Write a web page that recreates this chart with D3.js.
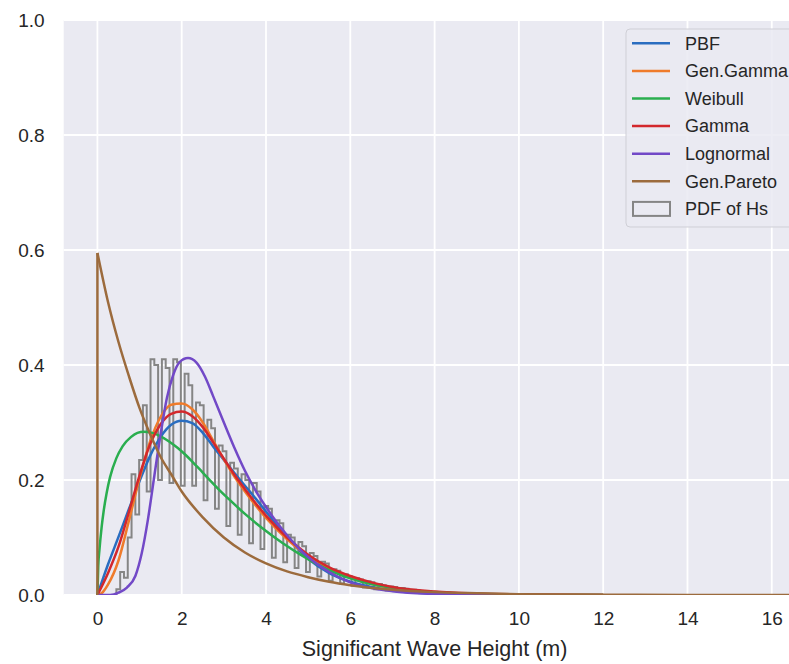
<!DOCTYPE html>
<html lang="en">
<head>
<meta charset="UTF-8">
<script src="https://d3js.org/d3.v7.min.js"></script>
<style>
  body { margin: 0; background: #fff; }
  text { font-family: "Liberation Sans", Arial, sans-serif; fill: #262626; }
</style>
</head>
<body>
<div id="chart"></div>
<script>
// --- data ---
const xTicks = [0, 2, 4, 6, 8, 10, 12, 14, 16];
const yTicks = [0, 0.2, 0.4, 0.6, 0.8, 1.0];

// histogram of Hs (step outline), bins of 0.09 m starting at 0.45 m
const histStart = 0.45;
const binWidth = 0.09;
const histHeights = [
  0.01, 0.04, 0.03, 0.10, 0.21, 0.14, 0.235, 0.33, 0.18, 0.41,
  0.40, 0.20, 0.41, 0.395, 0.195, 0.41, 0.405, 0.19, 0.385, 0.365,
  0.19, 0.335, 0.33, 0.165, 0.305, 0.29, 0.15, 0.26, 0.25, 0.12,
  0.23, 0.22, 0.105, 0.21, 0.20, 0.09, 0.195, 0.18, 0.08, 0.155,
  0.15, 0.065, 0.13, 0.125, 0.057, 0.105, 0.10, 0.047, 0.092, 0.085,
  0.04, 0.073, 0.068, 0.032, 0.058, 0.055, 0.025, 0.045, 0.042, 0.02,
  0.036, 0.033, 0.016, 0.029, 0.027, 0.013, 0.024, 0.022, 0.01, 0.019,
  0.017, 0.008, 0.015, 0.014, 0.006, 0.012, 0.011, 0.005, 0.009, 0.008,
  0.004, 0.007, 0.006, 0.003, 0.005, 0.005, 0.002, 0.004, 0.003, 0.0015,
  0.003, 0.002, 0.001, 0.002, 0.0015, 0.0005, 0.001, 0.001, 0, 0.0005
];

const pbfPdf = [[0,0],[0.25,0.053],[0.5,0.101],[0.75,0.15],[1,0.198],[1.25,0.242],[1.5,0.275],
  [1.75,0.296],[2,0.303],[2.25,0.299],[2.5,0.282],[2.75,0.258],[3,0.235],[3.25,0.212],[3.5,0.19],
  [3.75,0.168],[4,0.145],[4.5,0.1],[5,0.063],[5.5,0.038],[6,0.023],[6.5,0.014],[7,0.008],
  [8,0.0025],[9,0.0008],[10,0.0002],[12,0]];
const genGammaPdf = [[0,0],[0.1,0.003],[0.25,0.018],[0.5,0.06],[0.75,0.13],[1,0.203],[1.25,0.267],
  [1.5,0.31],[1.75,0.331],[2,0.333],[2.25,0.323],[2.5,0.3],[2.75,0.268],[3,0.236],[3.25,0.206],
  [3.5,0.18],[3.75,0.156],[4,0.134],[4.5,0.097],[5,0.068],[5.5,0.046],[6,0.03],[6.5,0.019],
  [7,0.012],[8,0.004],[9,0.0013],[10,0.0004],[12,0]];
const weibullPdf = [[0,0],[0.02,0.05],[0.05,0.08],[0.1,0.118],[0.15,0.147],[0.22,0.178],[0.3,0.205],
  [0.45,0.238],[0.6,0.259],[0.8,0.275],[0.95,0.282],[1.1,0.284],[1.3,0.282],[1.5,0.276],
  [1.7,0.267],[1.9,0.256],[2.1,0.243],[2.3,0.228],[2.5,0.213],[2.7,0.197],[2.9,0.182],
  [3.1,0.168],[3.5,0.141],[3.9,0.117],[4.4,0.09],[4.8,0.071],[5.2,0.054],[5.6,0.04],[6,0.029],
  [6.5,0.019],[7,0.0125],[7.5,0.008],[8,0.0052],[9,0.002],[10,0.0008],[11,0.0002],[12,0]];
const gammaPdf = [[0,0],[0.25,0.038],[0.5,0.084],[0.75,0.145],[1,0.208],[1.25,0.262],[1.5,0.297],
  [1.75,0.315],[2,0.319],[2.25,0.311],[2.5,0.292],[2.75,0.265],[3,0.237],[3.25,0.209],[3.5,0.184],
  [3.75,0.16],[4,0.138],[4.5,0.1],[5,0.07],[5.5,0.048],[6,0.033],[6.5,0.022],[7,0.014],
  [8,0.006],[9,0.0025],[10,0.001],[11,0.0004],[12,0]];
const lognormalPdf = [[0,0],[0.3,0],[0.5,0.004],[0.7,0.013],[0.9,0.033],[1.05,0.072],[1.2,0.132],
  [1.35,0.207],[1.5,0.28],[1.65,0.343],[1.8,0.383],[1.95,0.405],[2.15,0.412],[2.35,0.404],
  [2.55,0.38],[2.75,0.345],[3,0.3],[3.25,0.256],[3.5,0.216],[3.75,0.182],[4,0.153],[4.25,0.127],
  [4.5,0.104],[5,0.066],[5.5,0.04],[6,0.022],[6.5,0.012],[7,0.0065],[8,0.0017],[9,0.0004],[10,0]];
// first point is the jump at Hs = 0 (drawn as a straight vertical)
const genParetoPdf = [[0,0],[0,0.595],[0.25,0.51],[0.5,0.44],[0.75,0.38],[1,0.325],[1.25,0.28],
  [1.5,0.24],[1.75,0.21],[2,0.18],[2.5,0.135],[3,0.1],[3.5,0.074],[4,0.055],[4.5,0.041],
  [5,0.031],[5.5,0.023],[6,0.017],[7,0.009],[8,0.005],[9,0.003],[10,0.0015],[11,0.001],
  [12,0.0005],[14,0.0001],[16.8,0]];

const series = [
  { name: "PBF", data: pbfPdf, color: "#2a6dc0" },
  { name: "Gen.Gamma", data: genGammaPdf, color: "#ef7b2b" },
  { name: "Weibull", data: weibullPdf, color: "#2aae4f" },
  { name: "Gamma", data: gammaPdf, color: "#d3282d" },
  { name: "Lognormal", data: lognormalPdf, color: "#7249c7" },
  { name: "Gen.Pareto", data: genParetoPdf, color: "#9c6b3d" }
];

// --- layout ---
const width = 789, height = 664;
const svg = d3.select("#chart").append("svg")
  .attr("width", width)
  .attr("height", height);

const x = d3.scaleLinear().domain([-0.8, 16.8]).range([63.7, 805.5]);
const y = d3.scaleLinear().domain([0, 1]).range([595, 20]);

// plot background
svg.append("rect")
  .attr("x", x.range()[0]).attr("y", y(1))
  .attr("width", x.range()[1] - x.range()[0])
  .attr("height", y(0) - y(1))
  .attr("fill", "#eaeaf2");

svg.append("clipPath").attr("id", "clip")
  .append("rect")
  .attr("x", x.range()[0]).attr("y", y(1))
  .attr("width", x.range()[1] - x.range()[0])
  .attr("height", y(0) - y(1));

// grid
const grid = svg.append("g").attr("stroke", "#fff").attr("stroke-width", 1.8);
grid.selectAll(".gx").data(xTicks).join("line")
  .attr("x1", d => x(d)).attr("x2", d => x(d))
  .attr("y1", y(0)).attr("y2", y(1));
grid.selectAll(".gy").data(yTicks).join("line")
  .attr("x1", x.range()[0]).attr("x2", x.range()[1])
  .attr("y1", d => y(d)).attr("y2", d => y(d));

// axes (labels only, like seaborn darkgrid)
const xAxis = svg.append("g")
  .attr("transform", `translate(0,${y(0)})`)
  .call(d3.axisBottom(x).tickValues(xTicks).tickSize(0).tickPadding(17).tickFormat(d3.format("d")));
xAxis.select(".domain").remove();
xAxis.selectAll("text").style("font-size", "19px").attr("fill", "#262626");

const yAxis = svg.append("g")
  .attr("transform", `translate(${x.range()[0]},0)`)
  .call(d3.axisLeft(y).tickValues(yTicks).tickSize(0).tickPadding(19).tickFormat(d3.format(".1f")));
yAxis.select(".domain").remove();
yAxis.selectAll("text").style("font-size", "19px").attr("fill", "#262626");

svg.append("text")
  .attr("x", (x.range()[0] + x.range()[1]) / 2)
  .attr("y", 656)
  .attr("text-anchor", "middle")
  .style("font-size", "21.5px")
  .text("Significant Wave Height (m)");

const plot = svg.append("g").attr("clip-path", "url(#clip)");

// histogram step outline
const histPts = [[histStart, 0]];
histHeights.forEach((h, i) => {
  histPts.push([histStart + i * binWidth, h]);
  histPts.push([histStart + (i + 1) * binWidth, h]);
});
histPts.push([histStart + histHeights.length * binWidth, 0]);

plot.append("path")
  .datum(histPts)
  .attr("fill", "none")
  .attr("stroke", "#858585")
  .attr("stroke-width", 2)
  .attr("stroke-linejoin", "miter")
  .attr("d", d3.line().x(d => x(d[0])).y(d => y(d[1])));

// fitted pdfs
const smooth = d3.line()
  .curve(d3.curveMonotoneX)
  .x(d => x(d[0]))
  .y(d => y(d[1]));
const straight = d3.line()
  .x(d => x(d[0]))
  .y(d => y(d[1]));

series.forEach(s => {
  // a vertical jump (two points at the same Hs) is drawn straight, the rest smooth
  let start = 0;
  if (s.data.length > 1 && s.data[0][0] === s.data[1][0]) {
    plot.append("path")
      .datum(s.data.slice(0, 2))
      .attr("fill", "none")
      .attr("stroke", s.color)
      .attr("stroke-width", 2.5)
      .attr("d", straight);
    start = 1;
  }
  plot.append("path")
    .datum(s.data.slice(start))
    .attr("fill", "none")
    .attr("stroke", s.color)
    .attr("stroke-width", 2.5)
    .attr("stroke-linejoin", "round")
    .attr("d", smooth);
});

// legend
const lg = svg.append("g").attr("transform", "translate(626,29)");
lg.append("rect")
  .attr("width", 190).attr("height", 198)
  .attr("rx", 4)
  .attr("fill", "#eaeaf2").attr("fill-opacity", 0.85)
  .attr("stroke", "#cfcfd6").attr("stroke-width", 1);

const rowH = 27.6;
series.forEach((s, i) => {
  const cy = 14.3 + i * rowH;
  lg.append("line")
    .attr("x1", 6).attr("x2", 44)
    .attr("y1", cy).attr("y2", cy)
    .attr("stroke", s.color).attr("stroke-width", 2.5);
  lg.append("text")
    .attr("x", 59).attr("y", cy)
    .attr("dy", "0.35em")
    .style("font-size", "18px")
    .text(s.name);
});
const hy = 14.3 + 6 * rowH;
lg.append("rect")
  .attr("x", 7).attr("y", hy - 7)
  .attr("width", 37).attr("height", 14)
  .attr("fill", "none")
  .attr("stroke", "#858585").attr("stroke-width", 2);
lg.append("text")
  .attr("x", 59).attr("y", hy)
  .attr("dy", "0.35em")
  .style("font-size", "18px")
  .text("PDF of Hs");
</script>
</body>
</html>
